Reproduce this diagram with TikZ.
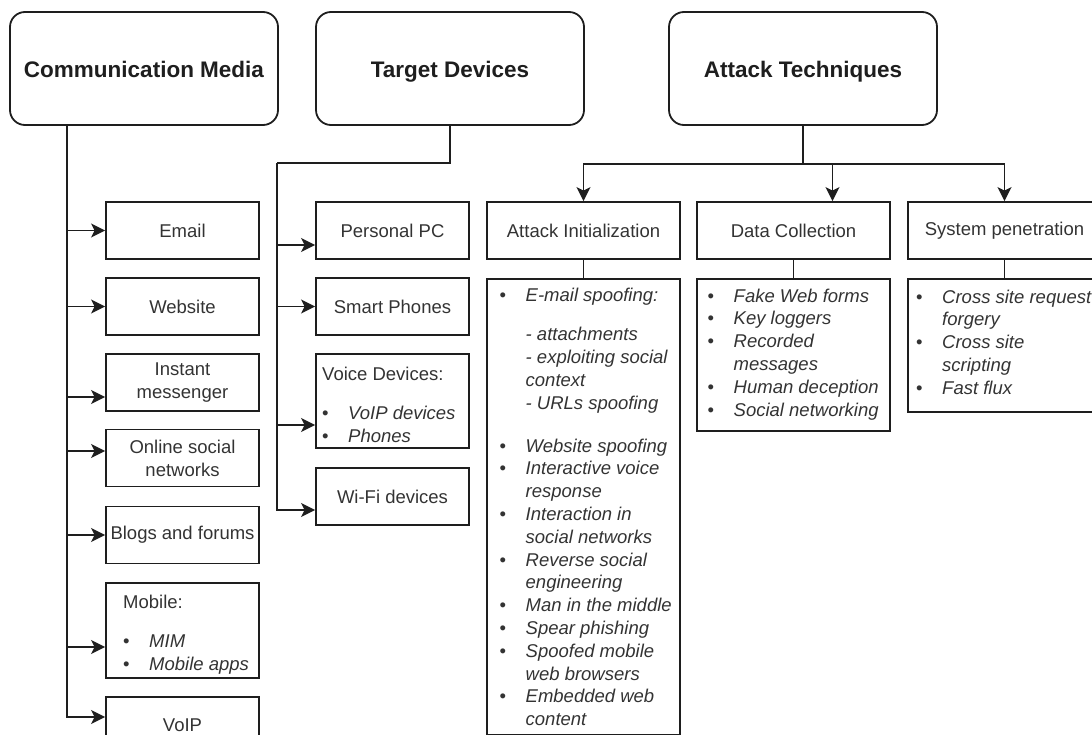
\documentclass[tikz,border=0pt]{standalone}
\usepackage{fontspec}
\setmainfont{Liberation Sans}
\usetikzlibrary{arrows.meta}

\definecolor{ink}{HTML}{1E1E1E}
\definecolor{txt}{HTML}{333333}

\newcommand{\bul}{\makebox[26pt][l]{\textbullet}}
\newcommand{\ind}{\hspace*{26pt}}

\tikzset{
    head/.style={draw=ink, line width=1.8pt, rounded corners=15pt,
        minimum width=268pt, minimum height=113pt, text height=22pt, text depth=3pt,
        font=\fontsize{22.5}{27}\selectfont\bfseries, text=ink},
    leaf/.style={draw=ink, line width=1.8pt, minimum height=57pt, inner sep=0pt,
        align=center, font=\fontsize{18.5}{22.8}\selectfont, text=txt},
    listtext/.style={anchor=north west, align=left, inner sep=0pt,
        font=\fontsize{18.5}{22.8}\selectfont, text=txt},
    link/.style={draw=ink, line width=1.8pt},
    arr/.style={link, -{Stealth[length=14pt,width=14pt,inset=3.5pt]}}
}

\begin{document}
\begin{tikzpicture}[x=1pt,y=-1pt]
    \useasboundingbox (0,0) rectangle (1092,735);
    \clip (0,0) rectangle (1092,735);

    % the three roots
    \node[head] (cm) at (144,68.5) {Communication Media};
    \node[head] (td) at (450,68.5) {Target Devices};
    \node[head] (at) at (803,68.5) {Attack Techniques};

    % communication media
    \node[leaf, minimum width=153pt] (email) at (182.5,230.5) {Email};
    \node[leaf, minimum width=153pt] (website) at (182.5,306.5) {Website};
    \node[leaf, minimum width=153pt] (im) at (182.5,382.5) {Instant\\messenger};
    \node[leaf, minimum width=153pt] (osn) at (182.5,458) {Online social\\networks};
    \node[leaf, minimum width=153pt] (blogs) at (182.5,535) {Blogs and forums};
    \node[leaf, minimum width=153pt, minimum height=95pt] (mobile) at (182.5,630.5) {};
    \node[listtext] (mobiletxt) at (123,592)
        {\strut Mobile:\\[17pt]\bul\textit{MIM}\\\bul\textit{Mobile apps}};
    \node[leaf, minimum width=153pt] (voip) at (182.5,725.5) {VoIP};

    % target devices
    \node[leaf, minimum width=153pt] (pc) at (392.5,230.5) {Personal PC};
    \node[leaf, minimum width=153pt] (phones) at (392.5,306.5) {Smart Phones};
    \node[leaf, minimum width=153pt, minimum height=94pt] (voice) at (392.5,401) {};
    \node[listtext] (voicetxt) at (322,364)
        {\strut Voice Devices:\\[17pt]\bul\textit{VoIP devices}\\\bul\textit{Phones}};
    \node[leaf, minimum width=153pt] (wifi) at (392.5,496.5) {Wi-Fi devices};

    % attack techniques
    \node[leaf, minimum width=193pt] (ai) at (583.5,230.5) {Attack Initialization};
    \node[leaf, minimum width=193pt] (dc) at (793.5,230.5) {Data Collection};
    \node[leaf, minimum width=193pt] (syspen) at (1004.5,230.5) {System penetration};

    \node[leaf, anchor=north, minimum width=193pt, minimum height=456pt] (ailist) at (583.5,278) {};
    \node[leaf, anchor=north, minimum width=193pt, minimum height=152pt] (dclist) at (793.5,278) {};
    \node[leaf, anchor=north, minimum width=193pt, minimum height=133pt] (splist) at (1004.5,278) {};

    \node[listtext] (aitxt) at (499.5,285) {%
        \strut\bul\textit{E-mail spoofing:}\\[17pt]
        \ind\textit{- attachments}\\
        \ind\textit{- exploiting social}\\
        \ind\textit{context}\\
        \ind\textit{- URLs spoofing}\\[20pt]
        \bul\textit{Website spoofing}\\
        \bul\textit{Interactive voice}\\
        \ind\textit{response}\\
        \bul\textit{Interaction in}\\
        \ind\textit{social networks}\\
        \bul\textit{Reverse social}\\
        \ind\textit{engineering}\\
        \bul\textit{Man in the middle}\\
        \bul\textit{Spear phishing}\\
        \bul\textit{Spoofed mobile}\\
        \ind\textit{web browsers}\\
        \bul\textit{Embedded web}\\
        \ind\textit{content}};
    \node[listtext] (dctxt) at (707.5,286) {%
        \strut\bul\textit{Fake Web forms}\\
        \bul\textit{Key loggers}\\
        \bul\textit{Recorded}\\
        \ind\textit{messages}\\
        \bul\textit{Human deception}\\
        \bul\textit{Social networking}};
    \node[listtext] (sptxt) at (916,287) {%
        \strut\bul\textit{Cross site request}\\
        \ind\textit{forgery}\\
        \bul\textit{Cross site}\\
        \ind\textit{scripting}\\
        \bul\textit{Fast flux}};

    % connectors, communication media
    \coordinate (cmroot) at ([xshift=-77pt]cm.south);
    \foreach \n/\s in {email/0,website/0,im/-14.5,osn/7,blogs/0,mobile/-16.5,voip/8.5}
        \coordinate (\n-in) at ([yshift=\s pt]\n.west);
    \draw[arr] (cmroot) |- (voip-in);
    \foreach \n in {email,website,im,osn,blogs,mobile}
        \draw[arr] (cmroot |- \n-in) -- (\n-in);

    % connectors, target devices
    \coordinate (tdroot) at (277,163);
    \foreach \n/\s in {pc/-14.5,phones/0,voice/-24,wifi/-13.5}
        \coordinate (\n-in) at ([yshift=\s pt]\n.west);
    \draw[link] (td.south) |- (tdroot);
    \draw[arr] (tdroot) |- (wifi-in);
    \foreach \n in {pc,phones,voice}
        \draw[arr] (tdroot |- \n-in) -- (\n-in);

    % connectors, attack techniques
    \coordinate (atbus) at ([yshift=-38pt]at.south);
    \coordinate (dc-top) at ([xshift=39pt]dc.north);
    \draw[link] (at.south) -- (atbus);
    \draw[arr] (atbus) -| (ai.north);
    \draw[arr] (atbus) -| (dc-top);
    \draw[arr] (atbus) -| (syspen.north);
    \draw[link] (ai.south) -- (ailist.north);
    \draw[link] (dc.south) -- (dclist.north);
    \draw[link] (syspen.south) -- (splist.north);
\end{tikzpicture}
\end{document}
